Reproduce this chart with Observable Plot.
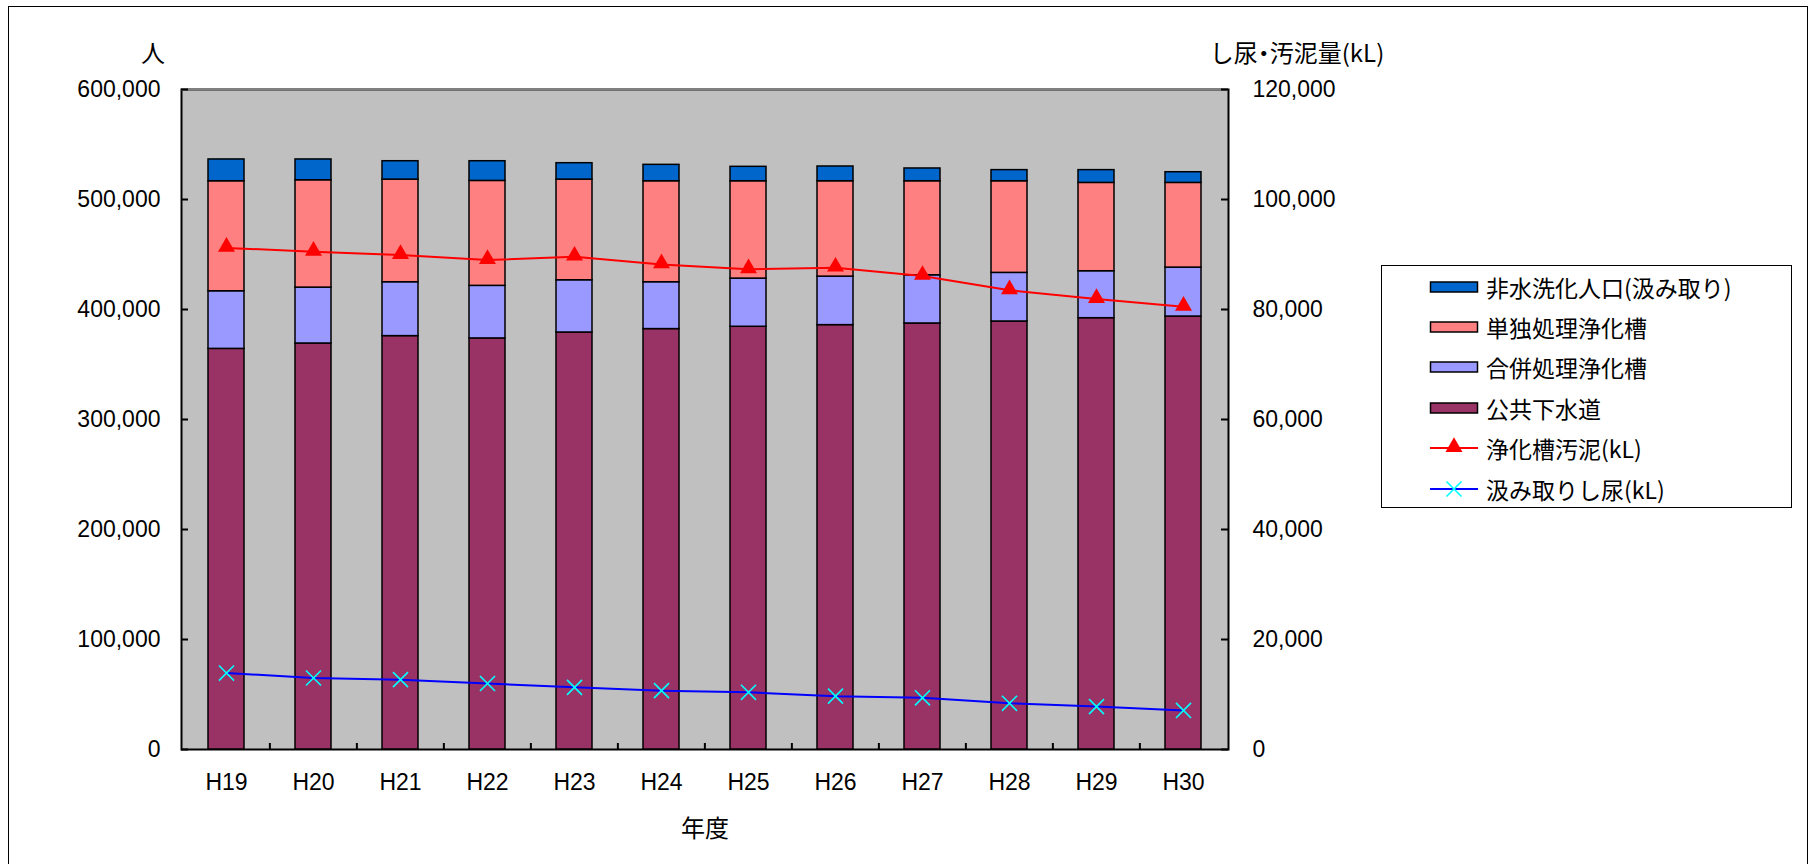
<!DOCTYPE html>
<html lang="ja">
<head>
<meta charset="utf-8">
<script src="https://cdn.jsdelivr.net/npm/d3@7"></script>
<script src="https://cdn.jsdelivr.net/npm/@observablehq/plot@0.6"></script>
<style>
  html, body { margin: 0; padding: 0; background: #fff; }
  #wrap { position: relative; width: 1814px; height: 864px; overflow: hidden; background: #fff; }
  #wrap svg.chart { position: absolute; left: 0; top: 0; }
  #outer { position: absolute; left: 8px; top: 6px; width: 1800px; height: 900px; border: 1.5px solid #000; box-sizing: border-box; pointer-events: none; }
  .lbl { position: absolute; font-family: "Noto Sans CJK JP", sans-serif; color: #000; white-space: nowrap; transform: translate(-50%, -50%); }
  #legend { position: absolute; left: 1381px; top: 265px; width: 411px; height: 243px; border: 1.5px solid #000; box-sizing: border-box; background: #fff; }
  .row { position: absolute; left: 47px; height: 24px; display: flex; align-items: center; transform: translateY(-50%); }
  .row span { font-family: "Noto Sans CJK JP", sans-serif; font-size: 23px; color: #000; margin-left: 7px; white-space: nowrap; }
</style>
</head>
<body>
<div id="wrap">
  <div id="outer"></div>
  <div class="lbl" style="left:153px;top:51px;font-size:24px;">人</div>
  <div class="lbl" style="left:1297px;top:51px;font-size:24px;">し尿<span style="font-feature-settings:'palt';">・</span>汚泥量(kL)</div>
  <div class="lbl" style="left:705px;top:826px;font-size:24px;">年度</div>
  <div id="legend"></div>
</div>
<script>
// ---- data ----
const years = ["H19","H20","H21","H22","H23","H24","H25","H26","H27","H28","H29","H30"];

// population series (人), bottom to top
const stackNames = ["公共下水道", "合併処理浄化槽", "単独処理浄化槽", "非水洗化人口(汲み取り)"];
const stackColors = ["#993366", "#9999FF", "#FF8080", "#0066CC"];
const sewer    = [364200, 369100, 375800, 373700, 379100, 382200, 384300, 385800, 387300, 389100, 392100, 393600];
const combined = [52400, 50800, 49000, 47800, 47500, 42600, 43800, 44100, 43800, 44200, 42700, 44500];
const single   = [100000, 97600, 93300, 95400, 91500, 91800, 88500, 86700, 85500, 83300, 80300, 77000];
const nonFlush = [19800, 18900, 16700, 17900, 14900, 14900, 13100, 13400, 11600, 10100, 11600, 9700];

// volume series (kL), right axis
const sludgeName = "浄化槽汚泥(kL)";
const sludge     = [91200, 90500, 89900, 89000, 89600, 88200, 87300, 87600, 86100, 83500, 81900, 80500];
const nightName  = "汲み取りし尿(kL)";
const nightSoil  = [13900, 13000, 12700, 12000, 11300, 10700, 10400, 9700, 9400, 8400, 7800, 7100];

const leftTicks = [0, 100000, 200000, 300000, 400000, 500000, 600000];
const rightMax = 120000, leftMax = 600000;

// ---- build ----
const stackValues = [sewer, combined, single, nonFlush];
const rows = [];
stackNames.forEach((s, i) => years.forEach((y, j) => rows.push({year: y, series: s, value: stackValues[i][j]})));
const ratio = rightMax / leftMax; // kL per person-axis unit
const lineRows = (vals) => years.map((y, j) => ({year: y, v: vals[j] / ratio}));
const fmt = d3.format(",");

const W = 1814, H = 864;
const mL = 181, mR = W - 1228, mT = 89, mB = H - 749;
const frameW = W - mL - mR, frameH = H - mT - mB;
const step = frameW / years.length;
const triR = 6.3, timesR = 6.9;

const chart = Plot.plot({
  width: W, height: H,
  marginLeft: mL, marginRight: mR, marginTop: mT, marginBottom: mB,
  style: {fontFamily: "'Liberation Sans', Arial, sans-serif", fontSize: "23px", color: "#000", background: "transparent", overflow: "visible"},
  x: {domain: years, paddingInner: 0.59, paddingOuter: 0.295, axis: null, label: null},
  y: {domain: [0, leftMax], axis: null, label: null},
  color: {domain: stackNames, range: stackColors},
  marks: [
    Plot.frame({fill: "#C0C0C0", stroke: "#000", strokeWidth: 2}),
    Plot.ruleY([leftMax], {stroke: "#808080", strokeWidth: 2}),
    Plot.barY(rows, {x: "year", y: "value", z: "series", fill: "series", order: stackNames, stroke: "#000", strokeWidth: 1.5}),
    Plot.line(lineRows(sludge), {x: "year", y: "v", stroke: "#FF0000", strokeWidth: 2}),
    Plot.dot(lineRows(sludge), {x: "year", y: "v", symbol: "triangle", r: triR, fill: "#FF0000", stroke: "none", dy: -1}),
    Plot.line(lineRows(nightSoil), {x: "year", y: "v", stroke: "#0000FF", strokeWidth: 2}),
    Plot.dot(lineRows(nightSoil), {x: "year", y: "v", symbol: "times", r: timesR, stroke: "#00FFFF", strokeWidth: 1.6, fill: "none"}),
    // inward tick marks
    Plot.tickY(leftTicks, {y: d => d, insetRight: frameW - 7, stroke: "#000", strokeWidth: 2}),
    Plot.tickY(leftTicks, {y: d => d, insetLeft: frameW - 7, stroke: "#000", strokeWidth: 2}),
    Plot.tickX(years.slice(1), {x: d => d, dx: -step / 2, insetTop: frameH - 6, stroke: "#000", strokeWidth: 2}),
    // axis labels
    Plot.axisY(leftTicks, {anchor: "left", tickSize: 0, tickPadding: 21, tickFormat: fmt, fontSize: 23, label: null}),
    Plot.axisY(leftTicks, {anchor: "right", tickSize: 0, tickPadding: 24, tickFormat: d => fmt(d * ratio), fontSize: 23, label: null}),
    Plot.axisX(years, {anchor: "bottom", tickSize: 0, tickPadding: 24, fontSize: 23, label: null})
  ]
});
chart.classList.add("chart");
document.getElementById("wrap").insertBefore(chart, document.getElementById("outer"));

// ---- legend (HTML) ----
const legend = document.getElementById("legend");
const entries = [
  ...stackNames.map((n, i) => ({name: n, type: "box", color: stackColors[i]})).reverse(),
  {name: sludgeName, type: "line", color: "#FF0000", marker: "triangle", mColor: "#FF0000"},
  {name: nightName, type: "line", color: "#0000FF", marker: "times", mColor: "#00FFFF"}
];
entries.forEach((e, i) => {
  const row = document.createElement("div");
  row.className = "row";
  row.style.top = (20.5 + i * 40.4) + "px";
  const svg = d3.create("svg").attr("width", 50).attr("height", 24);
  if (e.type === "box") {
    svg.append("rect").attr("x", 1.5).attr("y", 7).attr("width", 47).attr("height", 10)
      .attr("fill", e.color).attr("stroke", "#000").attr("stroke-width", 1.5);
  } else {
    svg.append("line").attr("x1", 1).attr("x2", 49).attr("y1", 12).attr("y2", 12)
      .attr("stroke", e.color).attr("stroke-width", 2);
    const sym = e.marker === "triangle" ? d3.symbolTriangle : d3.symbolTimes;
    const r = e.marker === "triangle" ? triR : timesR;
    svg.append("path").attr("transform", `translate(25,${e.marker === "triangle" ? 11 : 12})`)
      .attr("d", d3.symbol(sym, Math.PI * r * r)())
      .attr("fill", e.marker === "triangle" ? e.mColor : "none")
      .attr("stroke", e.marker === "triangle" ? "none" : e.mColor)
      .attr("stroke-width", 1.6);
  }
  row.appendChild(svg.node());
  const t = document.createElement("span");
  t.textContent = e.name;
  row.appendChild(t);
  legend.appendChild(row);
});
</script>
</body>
</html>
